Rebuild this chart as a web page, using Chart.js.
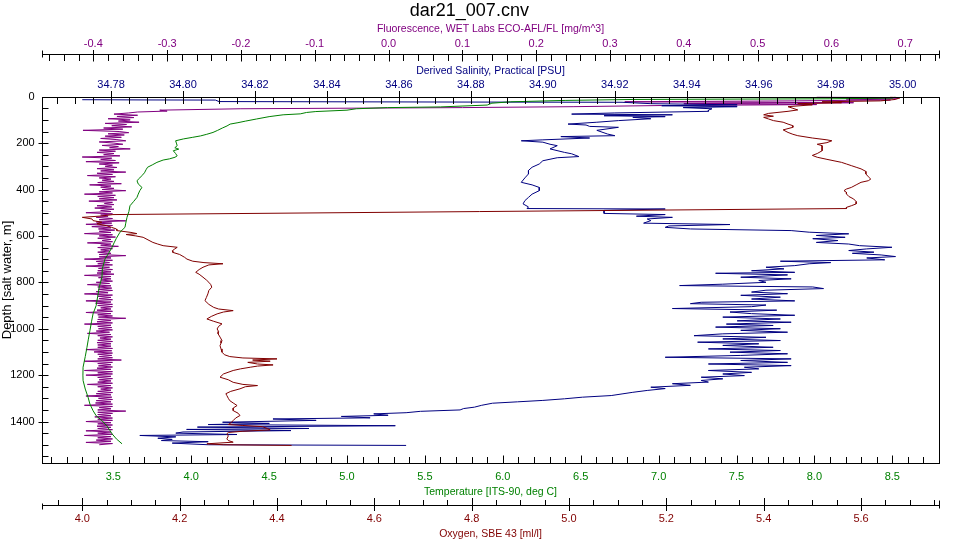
<!DOCTYPE html>
<html>
<head>
<meta charset="utf-8">
<title>dar21_007.cnv</title>
<script src="https://cdn.jsdelivr.net/npm/chart.js@4.4.0/dist/chart.umd.min.js"></script>
<style>
  html, body { margin: 0; padding: 0; background: #fff; }
</style>
</head>
<body>
<canvas id="profile" width="960" height="540"></canvas>
<script>
// CTD cast dar21_007 - four profiles against depth

const depthTicks = [0, 200, 400, 600, 800, 1000, 1200, 1400];
const fluoTicks = [-0.4, -0.3, -0.2, -0.1, 0.0, 0.1, 0.2, 0.3, 0.4, 0.5, 0.6, 0.7];
const salTicks = [34.78, 34.80, 34.82, 34.84, 34.86, 34.88, 34.90, 34.92, 34.94, 34.96, 34.98, 35.00];
const tempTicks = [3.5, 4.0, 4.5, 5.0, 5.5, 6.0, 6.5, 7.0, 7.5, 8.0, 8.5];
const oxyTicks = [4.0, 4.2, 4.4, 4.6, 4.8, 5.0, 5.2, 5.4, 5.6];

// fluorescence [mg/m^3]
const fluoDepth = [
  0, 3, 6, 10, 14, 18, 22, 26, 30, 34, 38, 43, 47, 52, 58, 62, 66,
  70, 75, 80, 85, 90, 95, 100, 105, 110, 115, 120, 125, 130, 135, 140, 145, 150, 155, 160, 165,
  170, 175, 180, 185, 190, 195, 200, 205, 210, 215, 220, 225, 230, 235, 240, 245, 250, 255, 260, 265,
  270, 275, 280, 285, 290, 295, 300, 305, 310, 315, 320, 325, 330, 335, 340, 345, 350, 355, 360, 365,
  370, 375, 380, 385, 390, 395, 400, 405, 410, 415, 420, 425, 430, 435, 440, 445, 450, 455, 460, 465,
  470, 475, 480, 485, 490, 495, 500, 505, 510, 515, 520, 525, 530, 535, 540, 545, 550, 555, 560, 565,
  570, 575, 580, 585, 590, 595, 600, 605, 610, 615, 620, 625, 630, 635, 640, 645, 650, 655, 660, 665,
  670, 675, 680, 685, 690, 695, 700, 705, 710, 715, 720, 725, 730, 735, 740, 745, 750, 755, 760, 765,
  770, 775, 780, 785, 790, 795, 800, 805, 810, 815, 820, 825, 830, 835, 840, 845, 850, 855, 860, 865,
  870, 875, 880, 885, 890, 895, 900, 905, 910, 915, 920, 925, 930, 935, 940, 945, 950, 955, 960, 965,
  970, 975, 980, 985, 990, 995, 1000, 1005, 1010, 1015, 1020, 1025, 1030, 1035, 1040, 1045, 1050, 1055, 1060, 1065,
  1070, 1075, 1080, 1085, 1090, 1095, 1100, 1105, 1110, 1115, 1120, 1125, 1130, 1135, 1140, 1145, 1150, 1155, 1160, 1165,
  1170, 1175, 1180, 1185, 1190, 1195, 1200, 1205, 1210, 1215, 1220, 1225, 1230, 1235, 1240, 1245, 1250, 1255, 1260, 1265,
  1270, 1275, 1280, 1285, 1290, 1295, 1300, 1305, 1310, 1315, 1320, 1325, 1330, 1335, 1340, 1345, 1350, 1355, 1360, 1365,
  1370, 1375, 1380, 1385, 1390, 1395, 1400, 1405, 1410, 1415, 1420, 1425, 1430, 1435, 1440, 1445, 1450, 1455, 1460, 1465,
  1470, 1475, 1480, 1485, 1490, 1495, 1500
];
const fluoValue = [
  0.58, 0.66, 0.69, 0.62, 0.68, 0.55, 0.32, 0.63, 0.40, 0.58, 0.37, 0.25, 0.10, -0.20, -0.31, -0.30, -0.34,
  -0.352, -0.372, -0.340, -0.368, -0.345,  -0.380, -0.350, -0.366, -0.338, -0.384,  -0.355, -0.375, -0.348, -0.386, -0.360,  -0.414, -0.365, -0.352, -0.380, -0.358,
  -0.384, -0.362, -0.390, -0.368, -0.356,  -0.392, -0.372, -0.360, -0.388, -0.366,  -0.378, -0.350, -0.392, -0.370, -0.395,  -0.372, -0.386, -0.364, -0.415, -0.375,
  -0.390, -0.370, -0.410, -0.365, -0.392,  -0.374, -0.384, -0.368, -0.395, -0.372,  -0.390, -0.356, -0.395, -0.374, -0.408,  -0.370, -0.392, -0.376, -0.388, -0.372,
  -0.394, -0.362, -0.405, -0.376, -0.390,  -0.372, -0.388, -0.356, -0.392, -0.374,  -0.412, -0.370, -0.394, -0.372, -0.392,  -0.368, -0.406, -0.374, -0.385, -0.372,
  -0.395, -0.375, -0.398, -0.372, -0.390,  -0.376, -0.410, -0.374, -0.390, -0.380,  -0.396, -0.374, -0.392, -0.356, -0.396,  -0.375, -0.410, -0.374, -0.402, -0.376,
  -0.393, -0.371, -0.392, -0.376, -0.412,  -0.374, -0.392, -0.370, -0.394, -0.376,  -0.388, -0.374, -0.408, -0.376, -0.390,  -0.366, -0.394, -0.374, -0.390, -0.378,
  -0.394, -0.376, -0.392, -0.356, -0.392,  -0.376, -0.412, -0.374, -0.396, -0.378,  -0.394, -0.374, -0.410, -0.378, -0.393,  -0.374, -0.394, -0.376, -0.395, -0.372,
  -0.412, -0.376, -0.393, -0.376, -0.390,  -0.374, -0.396, -0.378, -0.408, -0.376,  -0.394, -0.375, -0.393, -0.374, -0.396,  -0.380, -0.412, -0.374, -0.394, -0.376,
  -0.392, -0.374, -0.410, -0.376, -0.397,  -0.374, -0.394, -0.374, -0.390, -0.376,  -0.395, -0.374, -0.410, -0.376, -0.394,  -0.374, -0.393, -0.356, -0.394, -0.376,
  -0.395, -0.374, -0.412, -0.376, -0.394,  -0.375, -0.393, -0.374, -0.396, -0.378,  -0.408, -0.376, -0.394, -0.374, -0.391,  -0.376, -0.394, -0.374, -0.395, -0.376,
  -0.394, -0.376, -0.394, -0.374, -0.410,  -0.375, -0.399, -0.374, -0.394, -0.375,  -0.392, -0.374, -0.394, -0.362, -0.412,  -0.374, -0.394, -0.376, -0.393, -0.374,
  -0.395, -0.376, -0.412, -0.374, -0.394,  -0.374, -0.410, -0.376, -0.394, -0.374,  -0.392, -0.376, -0.394, -0.374, -0.408,  -0.376, -0.394, -0.374, -0.390, -0.376,
  -0.394, -0.374, -0.396, -0.376, -0.410,  -0.375, -0.393, -0.374, -0.396, -0.376,  -0.397, -0.374, -0.412, -0.374, -0.392,  -0.376, -0.394, -0.356, -0.394, -0.374,
  -0.394, -0.376, -0.398, -0.374, -0.394,  -0.374, -0.410, -0.376, -0.394, -0.374,  -0.395, -0.376, -0.394, -0.374, -0.410,  -0.376, -0.394, -0.374, -0.412, -0.376,
  -0.394, -0.374, -0.396, -0.376, -0.410, -0.374, -0.392
];

// salinity [PSU]
const salDepth = [
  13, 14, 14.5, 21, 23, 24, 30, 35, 39, 43,
  47, 52, 58, 63, 70, 75, 78, 82, 86, 89,
  95, 103, 110, 118, 122, 128, 132, 145, 161, 168,
  172, 178, 186, 190, 196, 205, 211, 225, 240, 246,
  258, 263, 276, 290, 304, 318, 333, 350, 369, 380,
  391, 405, 420, 434, 448, 462, 475, 482, 484, 490,
  503, 508, 515, 520, 527, 534, 545, 551, 557, 563,
  570, 577, 584, 591, 598, 606, 612, 620, 628, 635,
  642, 649, 656, 663, 670, 675, 682, 689, 695, 703,
  709, 715, 720, 728, 735, 742, 750, 757, 761, 768,
  778, 785, 792, 800, 808, 814, 820, 827, 834, 842,
  849, 856, 864, 872, 880, 886, 892, 898, 905, 913,
  920, 928, 935, 942, 950, 958, 966, 972, 980, 986,
  993, 1000, 1007, 1015, 1022, 1030, 1037, 1044, 1051, 1058,
  1065, 1072, 1080, 1087, 1094, 1101, 1108, 1115, 1123, 1130,
  1137, 1145, 1152, 1159, 1166, 1173, 1180, 1188, 1195, 1202,
  1209, 1216, 1223, 1230, 1237, 1244, 1252, 1258, 1266, 1274,
  1281, 1288, 1295, 1302, 1309, 1315, 1321, 1330, 1338, 1344,
  1350, 1356, 1362, 1367, 1373, 1378, 1384, 1389, 1395, 1403,
  1408, 1413, 1418, 1424, 1430, 1434, 1439, 1445, 1450, 1456,
  1460, 1466, 1472, 1477, 1482, 1487, 1493, 1500, 1503
];
const salValue = [
  34.772, 34.790, 34.809, 34.810, 34.875, 34.922, 34.930, 34.954, 34.933, 34.954,
  34.939, 34.947, 34.946, 34.946, 34.920, 34.908, 34.936, 34.917, 34.934, 34.925,
  34.930, 34.921, 34.915, 34.907, 34.912, 34.913, 34.921, 34.915, 34.918, 34.920,
  34.905, 34.913, 34.900, 34.894, 34.900, 34.902, 34.904, 34.902, 34.906, 34.908,
  34.910, 34.904, 34.900, 34.899, 34.897, 34.896, 34.896, 34.895, 34.894, 34.897,
  34.899, 34.899, 34.897, 34.896, 34.895, 34.8945, 34.896, 34.8956, 34.934, 34.917,
  34.917, 34.934, 34.926, 34.936, 34.929, 34.930, 34.928, 34.952, 34.935, 34.934,
  34.941, 34.969, 34.974, 34.985, 34.976, 34.984, 34.975, 34.982, 34.976, 34.985,
  34.988, 34.997, 34.990, 34.985, 34.992, 34.986, 34.994, 34.998, 34.990, 34.995,
  34.966, 34.980, 34.974, 34.970, 34.962, 34.967, 34.958, 34.970, 34.948, 34.968,
  34.955, 34.969, 34.960, 34.962, 34.950, 34.938, 34.975, 34.978, 34.962, 34.958,
  34.968, 34.955, 34.966, 34.958, 34.970, 34.944, 34.941, 34.962, 34.958, 34.936,
  34.965, 34.952, 34.958, 34.970, 34.950, 34.966, 34.954, 34.969, 34.951, 34.964,
  34.948, 34.966, 34.955, 34.968, 34.950, 34.942, 34.962, 34.950, 34.966, 34.943,
  34.960, 34.950, 34.964, 34.946, 34.966, 34.952, 34.968, 34.955, 34.934, 34.969,
  34.955, 34.968, 34.946, 34.969, 34.956, 34.960, 34.946, 34.958, 34.950, 34.956,
  34.944, 34.950, 34.944, 34.946, 34.936, 34.941, 34.930, 34.934, 34.929, 34.925,
  34.922, 34.919, 34.911, 34.906, 34.900, 34.893, 34.886, 34.883, 34.881, 34.878,
  34.877, 34.866, 34.862, 34.853, 34.857, 34.844, 34.852, 34.825, 34.837, 34.811,
  34.824, 34.807, 34.859, 34.804, 34.835, 34.801, 34.830, 34.800, 34.798, 34.815,
  34.788, 34.798, 34.793, 34.797, 34.794, 34.807, 34.797, 34.807, 34.862
];

// temperature [ITS-90, deg C]
const tempDepth = [
  0, 6, 9, 12, 16, 22, 28, 36, 44, 47,
  52, 58, 64, 68, 74, 78, 86, 96, 105, 112,
  118, 126, 135, 145, 154, 162, 169, 175, 182, 190,
  200, 211, 220, 226, 233, 245, 255, 261, 268, 273,
  283, 294, 304, 315, 328, 340, 350, 362, 376, 391,
  405, 420, 434, 452, 470, 495, 520, 545, 563, 584,
  610, 630, 649, 675, 699, 740, 778, 820, 860, 900,
  936, 970, 1008, 1045, 1080, 1120, 1166, 1200, 1223, 1260,
  1295, 1325, 1353, 1375, 1396, 1420, 1440, 1453, 1475, 1496
];
const tempValue = [
  8.52, 8.50, 8.10, 6.83, 6.40, 6.05, 5.93, 5.90, 5.60, 5.26,
  5.06, 5.00, 4.80, 4.74, 4.70, 4.59, 4.50, 4.42, 4.35, 4.30,
  4.25, 4.23, 4.20, 4.17, 4.14, 4.10, 4.06, 4.01, 3.95, 3.90,
  3.905, 3.91, 3.895, 3.92, 3.885, 3.90, 3.91, 3.896, 3.86, 3.82,
  3.78, 3.75, 3.72, 3.71, 3.70, 3.684, 3.67, 3.652, 3.66, 3.684,
  3.67, 3.66, 3.652, 3.63, 3.607, 3.60, 3.588, 3.58, 3.575, 3.543,
  3.52, 3.505, 3.492, 3.47, 3.447, 3.43, 3.427, 3.41, 3.40, 3.39,
  3.37, 3.36, 3.35, 3.34, 3.331, 3.32, 3.306, 3.305, 3.306, 3.32,
  3.338, 3.35, 3.37, 3.39, 3.427, 3.46, 3.48, 3.492, 3.52, 3.556
];

// oxygen, SBE 43 [ml/l]
const oxyDepth = [
  0, 5, 12, 18, 22, 26, 30, 35, 43, 50,
  57, 63, 72, 78, 84, 89, 96, 103, 110, 118,
  125, 132, 143, 154, 162, 168, 178, 186, 190, 198,
  205, 211, 220, 233, 245, 253, 261, 270, 283, 290,
  297, 304, 311, 322, 333, 345, 355, 362, 369, 380,
  391, 398, 405, 412, 419, 430, 441, 452, 462, 470,
  477, 482, 508, 514, 520, 527, 534, 541, 548, 556,
  563, 570, 577, 585, 590, 594, 600, 606, 617, 628,
  635, 642, 649, 656, 664, 671, 680, 692, 700, 709,
  715, 720, 725, 735, 745, 757, 765, 778, 790, 800,
  810, 821, 835, 850, 865, 879, 895, 908, 915, 922,
  928, 936, 947, 958, 968, 979, 990, 1001, 1012, 1022,
  1036, 1051, 1062, 1073, 1087, 1101, 1112, 1120, 1126, 1130,
  1135, 1140, 1145, 1152, 1156, 1161, 1166, 1173, 1180, 1195,
  1209, 1220, 1231, 1240, 1245, 1250, 1259, 1270, 1280, 1288,
  1300, 1310, 1320, 1331, 1342, 1353, 1364, 1374, 1385, 1396,
  1406, 1413, 1417, 1422, 1430, 1436, 1442, 1447, 1453, 1462,
  1475, 1482, 1489, 1496, 1500, 1503
];
const oxyValue = [
  5.66, 5.68, 5.67, 5.64, 5.52, 5.56, 5.47, 5.50, 5.45, 5.46,
  5.47, 5.45, 5.41, 5.40, 5.42, 5.40, 5.41, 5.42, 5.44, 5.45,
  5.46, 5.46, 5.44, 5.45, 5.46, 5.47, 5.50, 5.53, 5.54, 5.53,
  5.51, 5.52, 5.52, 5.52, 5.51, 5.50, 5.51, 5.53, 5.56, 5.57,
  5.58, 5.59, 5.60, 5.61, 5.61, 5.615, 5.62, 5.615, 5.60, 5.59,
  5.58, 5.57, 5.565, 5.57, 5.57, 5.575, 5.585, 5.59, 5.59, 5.58,
  5.57, 5.57, 4.063, 4.04, 4.00, 4.02, 4.022, 4.04, 4.03, 4.05,
  4.06, 4.07, 4.071, 4.10, 4.112, 4.09, 4.11, 4.125, 4.135, 4.145,
  4.155, 4.166, 4.195, 4.19, 4.185, 4.186, 4.20, 4.21, 4.215, 4.227,
  4.25, 4.289, 4.26, 4.248, 4.24, 4.233, 4.24, 4.248, 4.255, 4.26,
  4.264, 4.266, 4.26, 4.258, 4.255, 4.252, 4.26, 4.27, 4.28, 4.31,
  4.29, 4.277, 4.265, 4.256, 4.27, 4.287, 4.28, 4.277, 4.28, 4.279,
  4.283, 4.287, 4.285, 4.283, 4.285, 4.287, 4.292, 4.303, 4.33, 4.40,
  4.35, 4.386, 4.34, 4.36, 4.392, 4.36, 4.345, 4.325, 4.31, 4.29,
  4.283, 4.30, 4.31, 4.33, 4.36, 4.335, 4.324, 4.305, 4.295, 4.297,
  4.30, 4.303, 4.31, 4.318, 4.31, 4.31, 4.32, 4.324, 4.315, 4.31,
  4.305, 4.30, 4.33, 4.37, 4.38, 4.386, 4.33, 4.30, 4.297, 4.30,
  4.297, 4.30, 4.31, 4.256, 4.29, 4.43
];

const FONT = '"Liberation Sans", Arial, sans-serif';
const FLUO_LINE_Y = 54.5;
const OXY_LINE_Y = 505.5;

function profile(values, depths) {
  return values.map((v, i) => ({x: v, y: depths[i]}));
}

// every multiple of step that falls inside [min, max]
function stepValues(min, max, step) {
  const out = [];
  const first = Math.ceil(min / step - 1e-6);
  const last = Math.floor(max / step + 1e-6);
  for (let i = first; i <= last; i++) out.push(i * step);
  return out;
}

// frame, the two detached axis lines and all tick marks (ticks point into the plot)
const axisMarks = {
  id: 'axisMarks',
  afterDraw(chart) {
    const {ctx, chartArea: a, scales: s} = chart;
    const px = v => Math.round(v) + 0.5;
    const L = px(a.left), R = px(a.right), T = px(a.top), B = px(a.bottom);
    ctx.save();
    ctx.strokeStyle = '#000';
    ctx.lineWidth = 1;
    const seg = (x1, y1, x2, y2) => {
      ctx.beginPath(); ctx.moveTo(x1, y1); ctx.lineTo(x2, y2); ctx.stroke();
    };
    ctx.strokeRect(L, T, R - L, B - T);
    seg(L, FLUO_LINE_Y, R, FLUO_LINE_Y);
    seg(L, OXY_LINE_Y, R, OXY_LINE_Y);
    seg(L, FLUO_LINE_Y - 4, L, FLUO_LINE_Y + 3);
    seg(R, FLUO_LINE_Y - 4, R, FLUO_LINE_Y + 4);
    seg(L, OXY_LINE_Y - 2, L, OXY_LINE_Y + 4);
    seg(R, OXY_LINE_Y - 5, R, OXY_LINE_Y + 3);

    const hMarks = (scale, majors, step, y, minA, minB, majA, majB) => {
      stepValues(scale.min, scale.max, step).forEach(v => {
        const x = px(scale.getPixelForValue(v));
        if (x <= L || x >= R) return;
        const major = majors.some(m => Math.abs(m - v) < step / 10);
        if (major) seg(x, y + majA, x, y + majB);
        else seg(x, y + minA, x, y + minB);
      });
    };
    hMarks(s.xFluo, fluoTicks, 0.02, FLUO_LINE_Y, 0, 6.5, -4.5, 7);
    hMarks(s.xSal, salTicks, 0.005, T, 0, 6.5, -6.5, 6.5);
    hMarks(s.xTemp, tempTicks, 0.1, B, -6.5, 0, -8, 0);
    hMarks(s.xOxy, oxyTicks, 0.05, OXY_LINE_Y, -5.5, 0, -7.5, 5.5);

    stepValues(s.y.min, s.y.max, 50).forEach(v => {
      const y = px(s.y.getPixelForValue(v));
      if (y <= T || y >= B) return;
      const major = depthTicks.includes(v);
      seg(major ? L - 4 : L, y, L + 6, y);
    });
    ctx.restore();
  }
};

function labelAxis(opts) {
  return Object.assign({
    type: 'linear',
    grid: {display: false, drawTicks: false},
    border: {display: false}
  }, opts);
}

Chart.defaults.font.family = FONT;

new Chart(document.getElementById('profile'), {
  type: 'scatter',
  data: {
    datasets: [
      {
        label: 'Temperature',
        data: profile(tempValue, tempDepth),
        xAxisID: 'xTemp', yAxisID: 'y',
        borderColor: '#008000', order: 0
      },
      {
        label: 'Oxygen',
        data: profile(oxyValue, oxyDepth),
        xAxisID: 'xOxy', yAxisID: 'y',
        borderColor: '#800000', order: 1
      },
      {
        label: 'Salinity',
        data: profile(salValue, salDepth),
        xAxisID: 'xSal', yAxisID: 'y',
        borderColor: '#000080', order: 2
      },
      {
        label: 'Fluorescence',
        data: profile(fluoValue, fluoDepth),
        xAxisID: 'xFluo', yAxisID: 'y',
        borderColor: '#800080', order: 3
      }
    ].map(d => Object.assign(d, {
      showLine: true, pointRadius: 0, borderWidth: 1, tension: 0, fill: false
    }))
  },
  options: {
    responsive: false,
    animation: false,
    devicePixelRatio: 1,
    events: [],
    layout: {padding: {left: 0, right: 21.3, top: 0, bottom: 0}},
    plugins: {
      legend: {display: false},
      tooltip: {enabled: false},
      title: {
        display: true,
        text: 'dar21_007.cnv',
        color: '#000',
        font: {size: 18, weight: 'normal', family: FONT},
        padding: {top: 0, bottom: 0}
      }
    },
    scales: {
      y: labelAxis({
        position: 'left',
        reverse: true,
        min: 0, max: 1580,
        afterBuildTicks: sc => { sc.ticks = depthTicks.map(v => ({value: v})); },
        afterFit: sc => { sc.width = 42.3; },
        ticks: {color: '#000', font: {size: 11}, padding: 7.6, autoSkip: false,
                callback: v => String(v)},
        title: {display: true, text: 'Depth [salt water, m]', color: '#000',
                font: {size: 13}, padding: 0}
      }),
      xFluo: labelAxis({
        position: 'top', weight: 2,
        min: -0.4691, max: 0.7453,
        afterBuildTicks: sc => { sc.ticks = fluoTicks.map(v => ({value: v})); },
        afterFit: sc => { sc.height = 40.4; },
        ticks: {color: '#800080', font: {size: 11}, padding: 11.4, autoSkip: false,
                maxRotation: 0, callback: v => v.toFixed(1)},
        title: {display: true, text: 'Fluorescence, WET Labs ECO-AFL/FL [mg/m^3]',
                color: '#800080', font: {size: 10.5}, padding: {top: 1, bottom: 0}}
      }),
      xSal: labelAxis({
        position: 'top', weight: 1,
        min: 34.7609, max: 35.0100,
        afterBuildTicks: sc => { sc.ticks = salTicks.map(v => ({value: v})); },
        afterFit: sc => { sc.height = 34.7; },
        ticks: {color: '#000080', font: {size: 11}, padding: 4.8, autoSkip: false,
                maxRotation: 0, callback: v => v.toFixed(2)},
        title: {display: true, text: 'Derived Salinity, Practical [PSU]',
                color: '#000080', font: {size: 10.5}, padding: {top: 3.2, bottom: 0}}
      }),
      xTemp: labelAxis({
        position: 'bottom', weight: 1,
        min: 3.0443, max: 8.7978,
        afterBuildTicks: sc => { sc.ticks = tempTicks.map(v => ({value: v})); },
        afterFit: sc => { sc.height = 35.7; },
        ticks: {color: '#008000', font: {size: 11}, padding: 6.8, autoSkip: false,
                maxRotation: 0, callback: v => v.toFixed(1)},
        title: {display: true, text: 'Temperature [ITS-90, deg C]',
                color: '#008000', font: {size: 10.5}, padding: {top: 0, bottom: 1}}
      }),
      xOxy: labelAxis({
        position: 'bottom', weight: 2,
        min: 3.9178, max: 5.7596,
        afterBuildTicks: sc => { sc.ticks = oxyTicks.map(v => ({value: v})); },
        afterFit: sc => { sc.height = 41; },
        ticks: {color: '#800000', font: {size: 11}, padding: 13.6, autoSkip: false,
                maxRotation: 0, callback: v => v.toFixed(1)},
        title: {display: true, text: 'Oxygen, SBE 43 [ml/l]',
                color: '#800000', font: {size: 10.5}, padding: {top: 0, bottom: 0}}
      })
    }
  },
  plugins: [axisMarks]
});
</script>
</body>
</html>
